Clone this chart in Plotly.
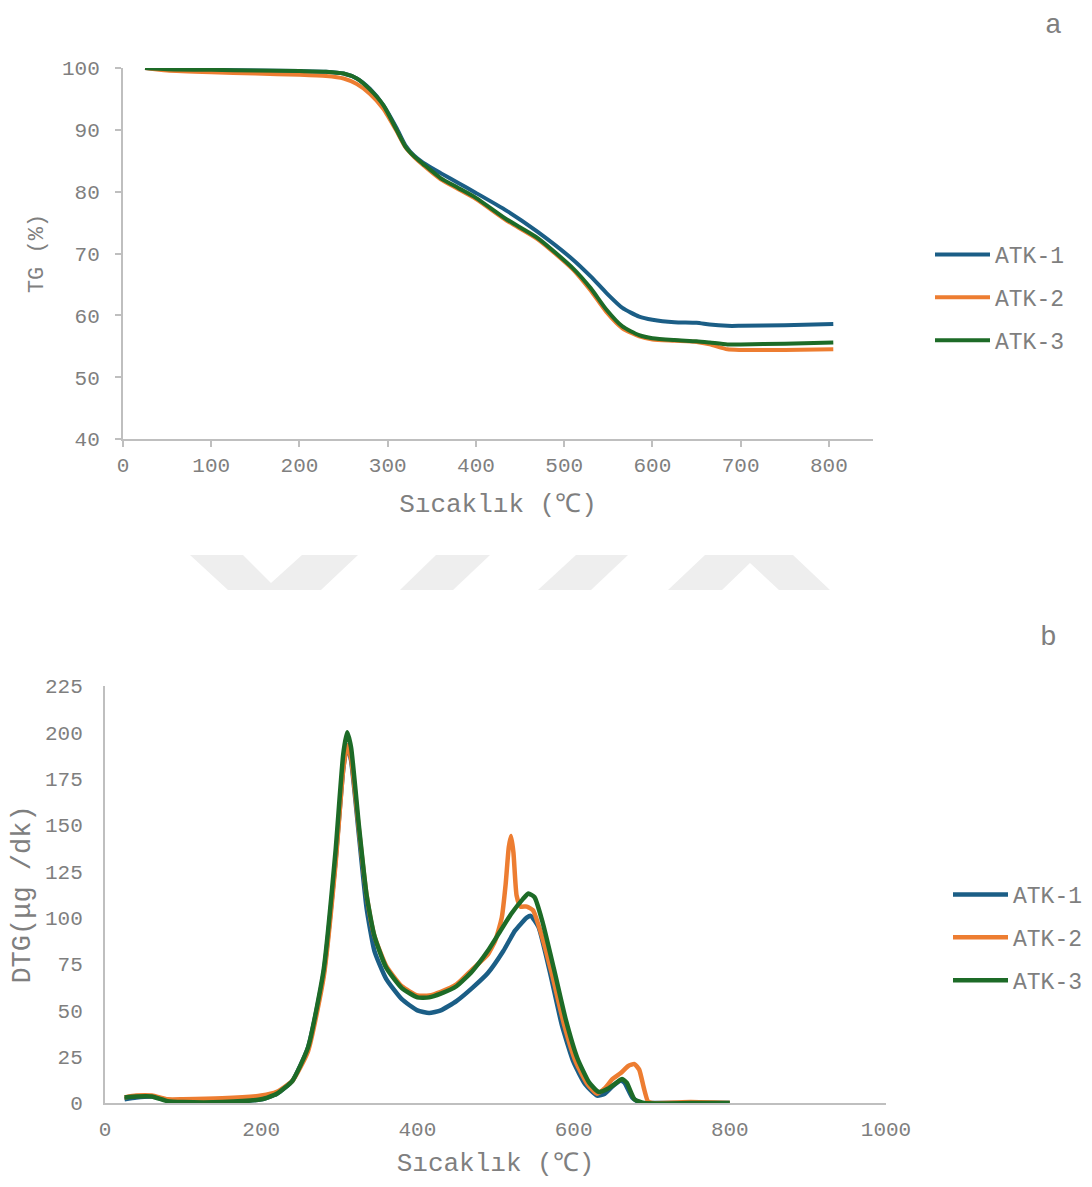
import plotly.graph_objects as go

# page body keeps its default 8px margin, so the figure is 16px smaller than the window
W, H = 1076, 1171
OX, OY = 8, 8

# ---------------- DATA ----------------
series_names = ["ATK-1", "ATK-2", "ATK-3"]

# TG (%) vs temperature (°C)
tg_temp = [25, 50, 100, 150, 200, 230, 250, 265, 280, 295, 310, 320, 330, 340, 360, 380, 400,
           435, 470, 510, 530, 548, 566, 585, 600, 625, 650, 665, 685, 700, 750, 805]
tg_atk1 = [100, 99.8, 99.7, 99.6, 99.5, 99.4, 99.1, 98.3, 96.6, 94.0, 90.3, 87.5, 85.8, 84.7, 83.0, 81.4, 79.8,
           76.9, 73.5, 69.0, 66.3, 63.6, 61.2, 59.8, 59.3, 58.9, 58.8, 58.5, 58.3, 58.3, 58.4, 58.6]
tg_atk2 = [100, 99.6, 99.3, 99.1, 98.9, 98.7, 98.3, 97.4, 95.8, 93.4, 89.8, 87.2, 85.6, 84.3, 82.0, 80.4, 78.8,
           75.3, 72.3, 67.4, 64.0, 60.5, 57.9, 56.6, 56.1, 55.9, 55.7, 55.3, 54.5, 54.4, 54.4, 54.5]
tg_atk3 = [100, 99.8, 99.7, 99.6, 99.5, 99.4, 99.1, 98.3, 96.5, 94.0, 90.0, 87.3, 85.7, 84.5, 82.2, 80.6, 79.0,
           75.5, 72.5, 67.6, 64.4, 60.9, 58.2, 56.8, 56.3, 56.0, 55.8, 55.6, 55.3, 55.3, 55.4, 55.6]

# DTG (µg/dk) vs temperature (°C)
dtg_temp1 = [25, 40, 60, 80, 100, 150, 200, 220, 240, 260, 280, 295, 305, 310, 315, 325, 335, 345, 360,
             380, 400, 415, 430, 450, 470, 490, 510, 525, 540, 545, 555, 570, 585, 600, 615, 630, 640,
             650, 660, 665, 675, 685, 700, 750, 800]
dtg_atk1 = [2, 3, 3.5, 1.5, 0.5, 0.5, 2, 5, 12, 30, 70, 130, 180, 193, 185, 145, 105, 82, 67,
            56, 50, 48.5, 50, 55, 62, 70, 82, 93, 100, 101, 95, 70, 42, 22, 10, 4, 5,
            9, 12, 11, 3, 0, 0, 0, 0]

dtg_temp2 = [25, 40, 60, 80, 100, 150, 200, 220, 240, 260, 280, 295, 305, 310, 315, 325, 335, 345, 360,
             380, 400, 415, 430, 450, 470, 490, 500, 508, 513, 517, 520, 523, 527, 532, 540, 548, 558,
             572, 588, 603, 618, 630, 640, 650, 660, 670, 678, 684, 690, 695, 700, 750, 800]
dtg_atk2 = [3, 4, 4, 2, 2, 2.5, 4, 6, 12, 28, 68, 128, 180, 193, 186, 148, 112, 90, 74,
            63, 58, 58, 60, 64, 72, 80, 88, 100, 118, 138, 144, 135, 112, 106, 106, 104, 92,
            70, 42, 22, 10, 5, 8, 13, 16, 20, 21, 18, 8, 1, 0, 0.5, 0]

dtg_temp3 = [25, 40, 60, 80, 100, 150, 200, 220, 240, 260, 280, 295, 305, 310, 315, 325, 335, 345, 360,
             380, 400, 415, 430, 450, 470, 490, 505, 520, 535, 542, 550, 560, 575, 590, 605, 620, 632,
             645, 655, 662, 668, 678, 690, 750, 800]
dtg_atk3 = [3, 3.5, 3.5, 1, 0.5, 0.5, 2, 5, 12, 30, 72, 135, 188, 200, 192, 150, 112, 90, 73,
            62, 57, 57, 59, 63, 71, 82, 92, 102, 110, 113, 111, 98, 72, 45, 24, 11, 6,
            8, 11, 13, 11, 2, 0, 0, 0]

tg_xticks = [0, 100, 200, 300, 400, 500, 600, 700, 800]
tg_yticks = [40, 50, 60, 70, 80, 90, 100]
dtg_xticks = [0, 200, 400, 600, 800, 1000]
dtg_yticks = [0, 25, 50, 75, 100, 125, 150, 175, 200, 225]

# ---------------- STYLE ----------------
colors = ["#1b5e86", "#ed7d31", "#1d6b27"]
FONT = "Liberation Mono"
TXT = "#7f7f7f"
AX = "#bfbfbf"


def px_x(x):
    return (x - OX) / W


def px_y(y):
    return 1 - (y - OY) / H


fig = go.Figure()

for name, ys, c, i in zip(series_names, [tg_atk1, tg_atk2, tg_atk3], colors, range(3)):
    fig.add_trace(go.Scatter(x=tg_temp, y=ys, name=name, mode="lines",
                             line=dict(color=c, width=4, shape="spline", smoothing=0.6),
                             xaxis="x", yaxis="y", legend="legend", legendgroup="a%d" % i))

for name, xs, ys, c, i in zip(series_names, [dtg_temp1, dtg_temp2, dtg_temp3],
                              [dtg_atk1, dtg_atk2, dtg_atk3], colors, range(3)):
    fig.add_trace(go.Scatter(x=xs, y=ys, name=name, mode="lines",
                             line=dict(color=c, width=4.5, shape="spline", smoothing=0.5),
                             xaxis="x2", yaxis="y2", legend="legend2", legendgroup="b%d" % i))

axis_common = dict(showgrid=False, zeroline=False, showline=True, linecolor=AX, linewidth=2,
                   automargin=False, tickfont=dict(family=FONT, size=21, color=TXT))

fig.update_layout(
    width=W, height=H,
    margin=dict(l=0, r=0, t=0, b=0, autoexpand=False),
    paper_bgcolor="white", plot_bgcolor="white",
    font=dict(family=FONT, color=TXT),
    xaxis=dict(domain=[px_x(123), px_x(873)], range=[0, 850], tickvals=tg_xticks,
               ticks="outside", ticklen=6, tickcolor=AX, tickwidth=1.5, anchor="y",
               ticklabelstandoff=0,
               title=dict(text="Sıcaklık (℃)", font=dict(family=FONT, size=26, color=TXT), standoff=17),
               **axis_common),
    yaxis=dict(domain=[px_y(439), px_y(68)], range=[40, 100], tickvals=tg_yticks,
               ticks="outside", ticklen=6, tickcolor=AX, tickwidth=1.5, anchor="x",
               ticklabelstandoff=11,
               title=dict(text="TG (%)", font=dict(family=FONT, size=22, color=TXT), standoff=12),
               **axis_common),
    xaxis2=dict(domain=[px_x(105), px_x(886)], range=[0, 1000], tickvals=dtg_xticks,
                ticks="", anchor="y2", ticklabelstandoff=6,
                title=dict(text="Sıcaklık (℃)", font=dict(family=FONT, size=26, color=TXT), standoff=20),
                **axis_common),
    yaxis2=dict(domain=[px_y(1103), px_y(686)], range=[0, 225], tickvals=dtg_yticks,
                ticks="", anchor="x2", ticklabelstandoff=16,
                title=dict(text="DTG(μg /dk)", font=dict(family=FONT, size=27, color=TXT), standoff=12),
                **axis_common),
    legend=dict(x=px_x(930), y=px_y(233), xanchor="left", yanchor="top",
                font=dict(family=FONT, size=23, color=TXT), tracegroupgap=10,
                traceorder="grouped", itemwidth=55, bgcolor="rgba(0,0,0,0)"),
    legend2=dict(x=px_x(948), y=px_y(873), xanchor="left", yanchor="top",
                 font=dict(family=FONT, size=23, color=TXT), tracegroupgap=10,
                 traceorder="grouped", itemwidth=55, bgcolor="rgba(0,0,0,0)"),
    showlegend=True,
)

# panel letters
fig.add_annotation(text="a", x=px_x(1053), y=1, xref="paper", yref="paper",
                   xanchor="center", yanchor="top",
                   showarrow=False, font=dict(family=FONT, size=28, color=TXT))
fig.add_annotation(text="b", x=px_x(1048), y=px_y(637), xref="paper", yref="paper",
                   xanchor="center", yanchor="middle",
                   showarrow=False, font=dict(family=FONT, size=28, color=TXT))

# faint watermark between panels
wm_polys = [
    [(190, 555), (243, 555), (271, 583), (302, 555), (358, 555), (321, 590), (228, 590)],
    [(436, 555), (490, 555), (453, 590), (400, 590)],
    [(576, 555), (628, 555), (591, 590), (538, 590)],
    [(705, 555), (793, 555), (830, 590), (779, 590), (750, 563), (722, 590), (668, 590)],
]
for poly in wm_polys:
    path = "M " + " L ".join("%.5f,%.5f" % (px_x(a), px_y(b)) for a, b in poly) + " Z"
    fig.add_shape(type="path", path=path, xref="paper", yref="paper",
                  fillcolor="#eeeeee", line=dict(width=0), layer="below")

fig.write_html("out.html")
